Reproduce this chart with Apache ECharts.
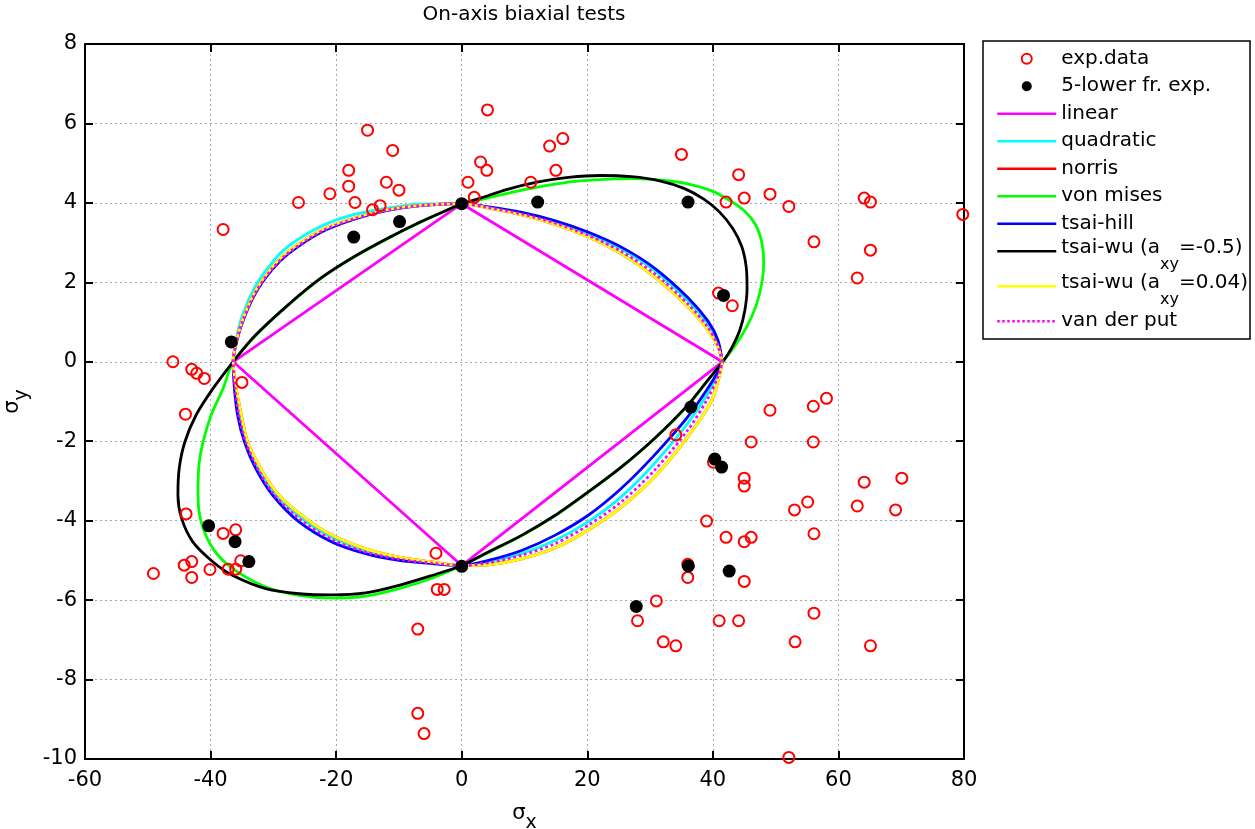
<!DOCTYPE html>
<html><head><meta charset="utf-8">
<script src="https://cdn.jsdelivr.net/npm/echarts@6/dist/echarts.min.js"></script>
<style>html,body{margin:0;padding:0;background:#fff}#c{width:1255px;height:829px}</style>
</head><body><div id="c"></div>
<script>
// ---------- axis ticks ----------
const xTickValues = [-60, -40, -20, 0, 20, 40, 60, 80];
const yTickValues = [-10, -8, -6, -4, -2, 0, 2, 4, 6, 8];

// ---------- experimental points ----------
const expData = [
  [-15.0,5.83],[-11.0,5.32],[-18.0,4.82],[-18.0,4.42],[-12.0,4.52],[-10.0,4.32],[-21.0,4.23],[-26.0,4.01],
  [-17.0,4.01],[-13.0,3.93],[-14.2,3.83],[-38.0,3.33],
  [4.1,6.34],[1.0,4.52],[3.0,5.03],[4.0,4.82],[2.0,4.14],[14.0,5.43],[16.1,5.62],[15.0,4.82],[11.0,4.52],
  [35.0,5.22],[44.1,4.71],[42.1,4.02],[45.0,4.12],[49.1,4.22],[52.1,3.91],[64.1,4.12],[65.1,4.02],[79.8,3.71],
  [56.1,3.02],[65.1,2.81],[63.0,2.11],[40.9,1.73],[43.1,1.41],
  [-46.0,0.0],[-43.0,-0.19],[-42.2,-0.29],[-41.0,-0.42],[-35.0,-0.52],[-44.0,-1.32],
  [-43.9,-3.83],[-38.0,-4.32],[-36.0,-4.23],[-43.0,-5.03],[-44.2,-5.12],[-49.1,-5.33],[-43.0,-5.43],
  [-40.1,-5.23],[-37.2,-5.22],[-36.0,-5.22],[-35.2,-5.01],[-4.1,-4.82],[-3.9,-5.73],[-2.8,-5.73],
  [-7.0,-6.73],[-7.0,-8.85],[-6.0,-9.36],
  [58.1,-0.92],[56.0,-1.12],[49.1,-1.22],[34.1,-1.84],[46.1,-2.02],[56.0,-2.02],[40.1,-2.53],[45.0,-2.93],
  [45.0,-3.13],[64.1,-3.03],[70.1,-2.93],[55.1,-3.53],[53.0,-3.73],[63.0,-3.63],[69.1,-3.73],[39.0,-4.01],
  [42.1,-4.42],[45.0,-4.53],[46.1,-4.42],[56.1,-4.33],[36.0,-5.43],[36.0,-5.10],[45.0,-5.53],[31.0,-6.02],
  [28.0,-6.52],[41.0,-6.52],[44.1,-6.52],[56.1,-6.33],[32.1,-7.05],[34.1,-7.15],[53.1,-7.05],[65.1,-7.15],
  [52.1,-9.96]
];
const lowerFractile = [
  [-17.2,3.14],[-9.9,3.53],[-36.7,0.50],[0,3.98],[12.1,4.02],[36.05,4.02],[41.7,1.67],
  [-40.3,-4.13],[-36.1,-4.53],[-33.9,-5.03],[0,-5.15],[36.5,-1.14],[40.3,-2.45],[41.4,-2.65],
  [36.1,-5.14],[42.6,-5.27],[27.8,-6.16]
];

// ---------- failure envelopes ----------
const linear = [[41.5,0],[0,3.98],[-36.4,0],[0,-5.13],[41.5,0]];

const quadratic = [
  [41.5,0],[40.8,0.48],[39.2,0.95],[36.0,1.54],[30.7,2.30],[25.5,2.83],[20.2,3.22],[14.9,3.52],[9.6,3.74],[4.3,3.89],[0,3.98],
  [-6.6,3.97],[-11.8,3.87],[-17.1,3.71],[-22.4,3.41],[-27.6,2.91],[-30.3,2.48],[-32.9,1.89],[-35.0,1.14],[-36.05,0.46],[-36.4,0],
  [-36.0,-0.67],[-35.3,-1.34],[-34.3,-2.02],[-32.3,-2.69],[-29.5,-3.36],[-25.2,-3.98],[-20.6,-4.43],[-15.3,-4.75],[-10.0,-4.95],[-4.75,-5.06],[0,-5.13],
  [4.24,-5.04],[9.53,-4.83],[14.83,-4.50],[20.1,-4.03],[25.4,-3.40],[30.7,-2.56],[36.0,-1.55],[39.2,-0.80],[40.8,-0.29],[41.5,0]
];
const norris = [
  [41.5,0],[40.8,0.38],[39.2,0.80],[36.0,1.39],[30.7,2.14],[25.5,2.71],[20.2,3.14],[14.9,3.46],[9.6,3.70],[4.3,3.87],[0,3.98],
  [-6.6,3.94],[-11.8,3.83],[-17.1,3.62],[-22.4,3.31],[-27.6,2.78],[-30.3,2.36],[-32.9,1.77],[-35.0,1.01],[-36.05,0.40],[-36.4,0],
  [-35.9,-0.67],[-35.1,-1.34],[-34.1,-2.02],[-32.0,-2.69],[-29.1,-3.36],[-24.8,-3.95],[-20.6,-4.37],[-15.3,-4.71],[-10.0,-4.92],[-4.75,-5.04],[0,-5.13],
  [4.24,-5.11],[9.53,-4.96],[14.83,-4.69],[20.1,-4.24],[25.4,-3.66],[30.7,-2.90],[36.0,-1.89],[39.7,-1.01],[41.0,-0.38],[41.5,0]
];
const vonMises = [
  [41.6,0],[43.5,0.40],[45.4,0.88],[46.9,1.42],[47.8,1.98],[48.1,2.50],[47.8,3.00],[46.8,3.45],[45.0,3.80],[42.5,4.08],[39.5,4.32],[36.0,4.48],[32.0,4.57],[27.5,4.61],[23.7,4.60],[18.4,4.55],[13.1,4.43],[7.8,4.26],[3.0,4.08],[0,3.98],
  [-1.3,3.89],[-6.6,3.51],[-11.8,3.10],[-17.1,2.64],[-22.4,2.10],[-27.6,1.43],[-32.9,0.65],[-36.4,0],
  [-38.0,-0.67],[-39.9,-1.34],[-41.2,-2.02],[-41.9,-2.69],[-42.0,-3.36],[-41.5,-4.03],[-39.6,-4.71],[-36.45,-5.21],[-31.2,-5.67],[-25.9,-5.88],[-20.6,-5.95],[-15.3,-5.90],[-10.0,-5.71],[-4.75,-5.45],[0,-5.13],
  [4.24,-4.80],[9.53,-4.38],[14.83,-3.88],[20.1,-3.29],[25.4,-2.66],[30.7,-1.94],[36.0,-1.10],[39.2,-0.47],[41.6,0]
];
const tsaiHill = [
  [41.5,0],[40.8,0.55],[39.2,1.03],[36.0,1.62],[30.7,2.36],[25.5,2.88],[20.2,3.26],[14.9,3.55],[9.6,3.76],[4.3,3.90],[0,3.98],
  [-6.6,3.93],[-11.8,3.81],[-17.1,3.59],[-22.4,3.26],[-27.6,2.72],[-30.3,2.30],[-32.9,1.71],[-35.0,0.96],[-36.05,0.37],[-36.4,0],
  [-36.2,-0.67],[-35.7,-1.34],[-34.6,-2.02],[-32.8,-2.69],[-30.1,-3.36],[-25.9,-4.03],[-20.6,-4.54],[-15.3,-4.83],[-10.0,-5.00],[-4.75,-5.08],[0,-5.13],
  [4.24,-5.00],[9.53,-4.75],[14.83,-4.37],[20.1,-3.87],[25.4,-3.19],[30.7,-2.35],[36.0,-1.39],[39.2,-0.67],[40.8,-0.25],[41.5,0]
];
const tsaiWuNeg = [
  [41.6,0],[43.0,0.35],[44.3,0.80],[45.1,1.30],[45.45,1.85],[45.3,2.40],[44.6,2.90],[43.2,3.35],[41.0,3.78],[38.5,4.10],[35.5,4.36],[31.7,4.55],[27.0,4.66],[22.1,4.69],[17.0,4.64],[12.0,4.52],[7.0,4.33],[3.0,4.12],[0,3.98],
  [-1.3,3.89],[-6.6,3.52],[-11.8,3.11],[-17.1,2.65],[-22.4,2.11],[-27.6,1.44],[-32.9,0.66],[-36.4,0],
  [-39.6,-0.67],[-42.3,-1.34],[-44.1,-2.02],[-45.0,-2.69],[-45.2,-3.36],[-44.6,-3.95],[-42.8,-4.54],[-39.6,-5.04],[-36.45,-5.38],[-31.2,-5.71],[-25.9,-5.84],[-20.6,-5.87],[-15.3,-5.82],[-10.0,-5.63],[-4.75,-5.38],[0,-5.13],
  [4.24,-4.79],[9.53,-4.37],[14.83,-3.87],[20.1,-3.28],[25.4,-2.65],[30.7,-1.93],[36.0,-1.09],[39.2,-0.46],[41.6,0]
];
const tsaiWuPos = [
  [41.5,0],[40.8,0.38],[39.2,0.80],[36.0,1.39],[30.7,2.14],[25.5,2.71],[20.2,3.14],[14.9,3.46],[9.6,3.70],[4.3,3.87],[0,3.98],
  [-6.6,3.94],[-11.8,3.83],[-17.1,3.62],[-22.4,3.31],[-27.6,2.78],[-30.3,2.36],[-32.9,1.77],[-35.0,1.01],[-36.05,0.40],[-36.4,0],
  [-35.9,-0.67],[-35.1,-1.34],[-34.1,-2.02],[-32.0,-2.69],[-29.1,-3.36],[-24.8,-3.95],[-20.6,-4.37],[-15.3,-4.71],[-10.0,-4.92],[-4.75,-5.04],[0,-5.13],
  [4.24,-5.11],[9.53,-4.96],[14.83,-4.69],[20.1,-4.24],[25.4,-3.66],[30.7,-2.90],[36.0,-1.89],[39.7,-1.01],[41.0,-0.38],[41.5,0]
];
const vanDerPut = [
  [41.5,0],[40.8,0.42],[39.2,0.87],[36.0,1.46],[30.7,2.22],[25.5,2.77],[20.2,3.18],[14.9,3.49],[9.6,3.72],[4.3,3.88],[0,3.98],
  [-6.6,3.93],[-11.8,3.82],[-17.1,3.60],[-22.4,3.28],[-27.6,2.74],[-30.3,2.32],[-32.9,1.73],[-35.0,0.98],[-36.05,0.38],[-36.4,0],
  [-36.1,-0.67],[-35.5,-1.34],[-34.4,-2.02],[-32.5,-2.69],[-29.8,-3.36],[-25.5,-4.00],[-20.6,-4.48],[-15.3,-4.79],[-10.0,-4.97],[-4.75,-5.07],[0,-5.13],
  [4.24,-5.06],[9.53,-4.87],[14.83,-4.58],[20.1,-4.12],[25.4,-3.53],[30.7,-2.73],[36.0,-1.72],[39.2,-0.92],[40.9,-0.34],[41.5,0]
];

// ---------- rendering ----------
const F = 'DejaVu Sans';
const chart = echarts.init(document.getElementById('c'), null, {renderer: 'canvas'});

const xMin = xTickValues[0], xMax = xTickValues[xTickValues.length - 1], xStep = xTickValues[1] - xTickValues[0];
const yMin = yTickValues[0], yMax = yTickValues[yTickValues.length - 1], yStep = yTickValues[1] - yTickValues[0];

const axisLineStyle = {color: '#000', width: 2};
const tickStyle = {show: true, inside: true, length: 8, lineStyle: {color: '#000', width: 2}};
const gridLine = {show: true, lineStyle: {color: '#a8a8a8', width: 1, type: [2, 3]}};

function lineSeries(name, data, color, extra) {
  return Object.assign({
    name, type: 'line', data, symbol: 'none', smooth: 0.3, silent: true,
    lineStyle: {color, width: 2.8}, itemStyle: {color}, z: 2
  }, extra || {});
}

const legendRich = {
  m: {fontSize: 20, fontFamily: F, lineHeight: 27.5, verticalAlign: 'top', color: '#000'},
  s: {fontSize: 16, fontFamily: F, lineHeight: 16, verticalAlign: 'top', padding: [19, 0, 0, 0], color: '#000'}
};
const legendText = {
  'tsai-wu (axy=-0.5)': '{m|tsai-wu (a}{s|xy}{m|=-0.5)}',
  'tsai-wu (axy=0.04)': '{m|tsai-wu (a}{s|xy}{m|=0.04)}'
};
const lineItem = name => ({name, itemStyle: {opacity: 0}});

const nameRich = {
  a: {fontSize: 21, fontFamily: F, lineHeight: 22, verticalAlign: 'top', color: '#000'},
  b: {fontSize: 19, fontFamily: F, lineHeight: 19, verticalAlign: 'top', padding: [11, 0, 0, 0], color: '#000'}
};

chart.setOption({
  animation: false,
  backgroundColor: '#fff',
  title: {
    text: 'On-axis biaxial tests', left: 524, top: 5, textAlign: 'center', padding: 0,
    textStyle: {fontFamily: F, fontSize: 20, fontWeight: 'normal', color: '#000'}
  },
  grid: {left: 85, right: 291, top: 44, bottom: 70, containLabel: false, outerBoundsMode: 'none'},
  legend: {
    orient: 'vertical', left: 983, top: 41, padding: [4, 2, 4, 13], itemGap: 0,
    itemWidth: 59, itemHeight: 10, borderColor: '#000', borderWidth: 1.5, backgroundColor: '#fff',
    selectedMode: false,
    lineStyle: {width: 2.5},
    textStyle: {fontFamily: F, fontSize: 20, color: '#000', lineHeight: 27.5, rich: legendRich},
    formatter: name => legendText[name] || name,
    data: [
      {name: 'exp.data', icon: 'circle', itemStyle: {color: 'rgba(0,0,0,0)', borderColor: '#ff0000', borderWidth: 2, opacity: 1}},
      {name: '5-lower fr. exp.', icon: 'circle', itemStyle: {color: '#000', opacity: 1}},
      lineItem('linear'), lineItem('quadratic'), lineItem('norris'), lineItem('von mises'), lineItem('tsai-hill'),
      lineItem('tsai-wu (axy=-0.5)'), lineItem('tsai-wu (axy=0.04)'), lineItem('van der put')
    ]
  },
  xAxis: [{
    type: 'value', position: 'bottom', min: xMin, max: xMax, interval: xStep,
    axisLine: {show: true, onZero: false, lineStyle: axisLineStyle},
    axisTick: tickStyle,
    axisLabel: {color: '#000', fontSize: 21, fontFamily: F, margin: 11},
    splitLine: gridLine,
    name: '{a|σ}{b|x}', nameLocation: 'middle', nameGap: 44,
    nameTextStyle: {rich: nameRich}
  }, {
    type: 'value', position: 'top', min: xMin, max: xMax, interval: xStep,
    axisLine: {show: true, onZero: false, lineStyle: axisLineStyle},
    axisTick: tickStyle, axisLabel: {show: false}, splitLine: {show: false}
  }],
  yAxis: [{
    type: 'value', position: 'left', min: yMin, max: yMax, interval: yStep,
    axisLine: {show: true, onZero: false, lineStyle: axisLineStyle},
    axisTick: tickStyle,
    axisLabel: {color: '#000', fontSize: 21, fontFamily: F, margin: 8},
    splitLine: gridLine,
    name: '{a|σ}{b|y}', nameLocation: 'middle', nameGap: 52, nameRotate: 90,
    nameTextStyle: {rich: nameRich}
  }, {
    type: 'value', position: 'right', min: yMin, max: yMax, interval: yStep,
    axisLine: {show: true, onZero: false, lineStyle: axisLineStyle},
    axisTick: tickStyle, axisLabel: {show: false}, splitLine: {show: false}
  }],
  series: [
    {name: 'exp.data', type: 'scatter', data: expData, symbol: 'circle', symbolSize: 11, z: 5, silent: true,
     itemStyle: {color: 'rgba(0,0,0,0)', borderColor: '#ff0000', borderWidth: 2, opacity: 1}},
    {name: '5-lower fr. exp.', type: 'scatter', data: lowerFractile, symbol: 'circle', symbolSize: 13, z: 6, silent: true,
     itemStyle: {color: '#000', opacity: 1}},
    lineSeries('linear', linear, '#ff00ff', {smooth: false}),
    lineSeries('quadratic', quadratic, '#00ffff'),
    lineSeries('norris', norris, '#ff0000'),
    lineSeries('von mises', vonMises, '#00ff00'),
    lineSeries('tsai-hill', tsaiHill, '#0000ff'),
    lineSeries('tsai-wu (axy=-0.5)', tsaiWuNeg, '#000000'),
    lineSeries('tsai-wu (axy=0.04)', tsaiWuPos, '#ffff00'),
    lineSeries('van der put', vanDerPut, '#ff00ff', {lineStyle: {color: '#ff00ff', width: 2.8, type: 'dotted'}})
  ]
});
</script>
</body></html>
